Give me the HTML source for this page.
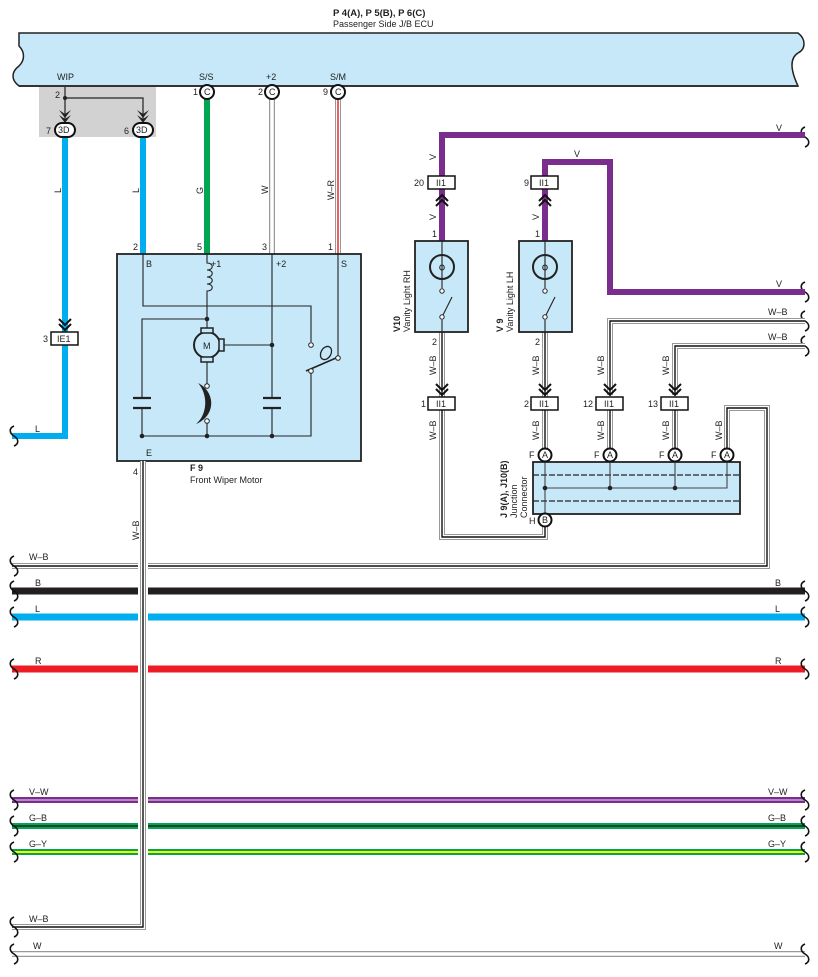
<!DOCTYPE html>
<html><head><meta charset="utf-8"><style>
html,body{margin:0;padding:0;background:#fff}
svg{display:block;font-family:"Liberation Sans",sans-serif}
text{font-size:9px;fill:#222}
.b{font-weight:bold}
</style></head><body>
<svg width="818" height="977" viewBox="0 0 818 977" xmlns="http://www.w3.org/2000/svg">
<defs>
<g id="brace"><path d="M0,-10 c-5,2 -5,7 0,10 c5,3 5,8 0,10" fill="none" stroke="#111" stroke-width="1.6"/></g>
<g id="dn"><path d="M-6,-9 L0,-3 L6,-9 M-6,-4 L0,2 L6,-4" fill="none" stroke="#111" stroke-width="2"/></g>
<g id="up"><path d="M-6,9 L0,3 L6,9 M-6,4 L0,-2 L6,4" fill="none" stroke="#111" stroke-width="2"/></g>
</defs>

<!-- title -->
<text x="333" y="16" class="b" style="font-size:9.5px">P 4(A), P 5(B), P 6(C)</text>
<text x="333" y="27">Passenger Side J/B ECU</text>

<!-- ECU box -->
<path d="M19,33 H798 c8,6 8,16 0,20 c-8,5 -8,16 0,33 H19 c-8,-6 -8,-14 0,-20 c6,-6 6,-14 0,-20 Z" fill="#c6e8f9" stroke="#222" stroke-width="1.5"/>
<path d="M19,86 H798" stroke="#333" stroke-width="2"/>
<text x="57" y="80">WIP</text>
<text x="199" y="80">S/S</text>
<text x="266" y="80">+2</text>
<text x="330" y="80">S/M</text>

<!-- gray box -->
<rect x="39" y="87" width="117" height="50" fill="#d2d2d2"/>
<path d="M65,87 V120 M65,98 H143 V120" fill="none" stroke="#222" stroke-width="1.2"/>
<circle cx="65" cy="98" r="2" fill="#222"/>
<text x="55" y="98">2</text>
<path d="M59,110 L65,118 L71,110 L65,114 Z M59,115 L65,123 L71,115 L65,119Z" fill="#222"/>
<path d="M137,110 L143,118 L149,110 L143,114 Z M137,115 L143,123 L149,115 L143,119Z" fill="#222"/>

<!-- blue wires -->
<path d="M65,137 V436 H12" fill="none" stroke="#00aeef" stroke-width="6"/>
<path d="M143,137 V254" fill="none" stroke="#00aeef" stroke-width="6"/>
<rect x="55" y="123" width="20" height="14" rx="7" fill="#fff" stroke="#111" stroke-width="2"/>
<text x="58" y="133">3D</text><text x="46" y="134">7</text>
<rect x="133" y="123" width="20" height="14" rx="7" fill="#fff" stroke="#111" stroke-width="2"/>
<text x="136" y="133">3D</text><text x="124" y="134">6</text>
<text transform="translate(61,193) rotate(-90)">L</text>
<text transform="translate(139,193) rotate(-90)">L</text>
<use href="#dn" x="65" y="328"/>
<rect x="51" y="332" width="27" height="13" fill="#fff" stroke="#111" stroke-width="1.5"/>
<text x="57" y="342">IE1</text><text x="43" y="342">3</text>
<text x="35" y="432">L</text>
<use href="#brace" x="14" y="436"/>

<!-- G, W, W-R -->
<path d="M207,99 V254" stroke="#00a651" stroke-width="6"/>
<path d="M272,99 V254" stroke="#999" stroke-width="6"/><path d="M272,99 V254" stroke="#fff" stroke-width="3.5"/>
<path d="M338,99 V254" stroke="#999" stroke-width="6"/><path d="M338,99 V254" stroke="#fff" stroke-width="4"/><path d="M338,99 V254" stroke="#e02020" stroke-width="1.4"/>
<g fill="#fff" stroke="#111" stroke-width="2">
<circle cx="207" cy="92" r="7"/><circle cx="272" cy="92" r="7"/><circle cx="338" cy="92" r="7"/></g>
<text x="204" y="95">C</text><text x="269" y="95">C</text><text x="335" y="95">C</text>
<text x="193" y="95">1</text><text x="258" y="95">2</text><text x="323" y="95">9</text>
<text transform="translate(203,194) rotate(-90)">G</text>
<text transform="translate(268,194) rotate(-90)">W</text>
<text transform="translate(334,200) rotate(-90)">W–R</text>
<text x="133" y="250">2</text><text x="197" y="250">5</text><text x="262" y="250">3</text><text x="328" y="250">1</text>

<!-- motor box -->
<rect x="117" y="254" width="244" height="207" fill="#c6e8f9" stroke="#222" stroke-width="1.8"/>
<text x="146" y="267">B</text><text x="211" y="267">+1</text><text x="276" y="267">+2</text><text x="341" y="267">S</text>
<g fill="none" stroke="#222" stroke-width="1.1">
<path d="M143,254 V306 H311 V342"/>
<path d="M207,254 V263 c7,0 7,7 0,7 c7,0 7,7 0,7 c7,0 7,7 0,7 c7,0 7,7 0,7 V331"/>
<path d="M207,319 H142 V398 M142,408 V436 H311 V373"/>
<path d="M133,398 H151 M133,408 H151" stroke-width="2.2"/>
<path d="M272,254 V398 M272,408 V436"/>
<path d="M263,398 H281 M263,408 H281" stroke-width="2.2"/>
<path d="M221,345 H272"/>
<path d="M207,359 V386 M207,422 V436"/>
<path d="M338,254 V356"/>
<path d="M336,358 L306,371" stroke-width="1.6"/>
</g>
<path d="M198,383 C216,392 216,416 196,424 C208,414 208,394 198,383 Z" fill="#222"/>
<circle cx="207" cy="345" r="13" fill="#c6e8f9" stroke="#222" stroke-width="2"/>
<rect x="201" y="328" width="12" height="5" fill="#c6e8f9" stroke="#222" stroke-width="1.5"/>
<rect x="201" y="357" width="12" height="5" fill="#c6e8f9" stroke="#222" stroke-width="1.5"/>
<rect x="219" y="339" width="5" height="12" fill="#c6e8f9" stroke="#222" stroke-width="1.5"/>
<text x="203" y="349">M</text>
<ellipse cx="326" cy="353" rx="5" ry="7" transform="rotate(30 326 353)" fill="#c6e8f9" stroke="#222" stroke-width="1.3"/>
<g fill="#fff" stroke="#222" stroke-width="1">
<circle cx="311" cy="345" r="2.3"/><circle cx="338" cy="358" r="2.3"/><circle cx="311" cy="371" r="2.3"/>
<circle cx="207" cy="386" r="2.3"/><circle cx="207" cy="421" r="2.3"/></g>
<g fill="#222"><circle cx="207" cy="319" r="2.3"/><circle cx="272" cy="345" r="2.3"/><circle cx="142" cy="436" r="2.3"/><circle cx="207" cy="436" r="2.3"/><circle cx="272" cy="436" r="2.3"/></g>
<text x="146" y="456">E</text>
<text x="190" y="471" class="b">F 9</text>
<text x="190" y="483">Front Wiper Motor</text>
<text x="133" y="475">4</text>

<!-- horizontal buses -->
<g fill="none">
<path d="M12,591 H805" stroke="#231f20" stroke-width="7"/>
<path d="M12,617 H805" stroke="#00aeef" stroke-width="7"/>
<path d="M12,669 H805" stroke="#ed1c24" stroke-width="7"/>
<path d="M12,800 H805" stroke="#7b2d8e" stroke-width="6"/><path d="M12,800 H805" stroke="#c9a5d4" stroke-width="1.5"/>
<path d="M12,826 H805" stroke="#00a651" stroke-width="6"/><path d="M12,826 H805" stroke="#222" stroke-width="1.5"/>
<path d="M12,852 H805" stroke="#00a651" stroke-width="6"/><path d="M12,852 H805" stroke="#fff200" stroke-width="2"/>
<path d="M12,954 H805" stroke="#999" stroke-width="6"/><path d="M12,954 H805" stroke="#fff" stroke-width="3.5"/>
<path d="M727,455 V408 H767 V566 H12" stroke="#999" stroke-width="6"/><path d="M727,455 V408 H767 V566 H12" stroke="#fff" stroke-width="4"/><path d="M727,455 V408 H767 V566 H12" stroke="#111" stroke-width="1.4"/>
<path d="M143,560 V935" stroke="#fff" stroke-width="10"/>
<path d="M143,461 V927 H12" stroke="#999" stroke-width="6"/><path d="M143,461 V927 H12" stroke="#fff" stroke-width="4"/><path d="M143,461 V927 H12" stroke="#111" stroke-width="1.4"/>
</g>
<text transform="translate(139,540) rotate(-90)">W–B</text>
<g>
<text x="29" y="560">W–B</text><text x="35" y="586">B</text><text x="35" y="612">L</text><text x="35" y="664">R</text>
<text x="29" y="795">V–W</text><text x="29" y="821">G–B</text><text x="29" y="847">G–Y</text><text x="29" y="922">W–B</text><text x="33" y="949">W</text>
<text x="775" y="586">B</text><text x="775" y="612">L</text><text x="775" y="664">R</text>
<text x="768" y="795">V–W</text><text x="768" y="821">G–B</text><text x="768" y="847">G–Y</text><text x="774" y="949">W</text>
</g>
<g>
<use href="#brace" x="14" y="566"/><use href="#brace" x="14" y="591"/><use href="#brace" x="14" y="617"/><use href="#brace" x="14" y="669"/>
<use href="#brace" x="14" y="800"/><use href="#brace" x="14" y="826"/><use href="#brace" x="14" y="852"/><use href="#brace" x="14" y="927"/><use href="#brace" x="14" y="954"/>
<use href="#brace" x="805" y="591"/><use href="#brace" x="805" y="617"/><use href="#brace" x="805" y="669"/>
<use href="#brace" x="805" y="800"/><use href="#brace" x="805" y="826"/><use href="#brace" x="805" y="852"/><use href="#brace" x="805" y="954"/>
<use href="#brace" x="805" y="137"/><use href="#brace" x="805" y="292"/><use href="#brace" x="805" y="321"/><use href="#brace" x="805" y="346"/>
</g>

<!-- right side V wires -->
<path d="M442,241 V135 H805" fill="none" stroke="#7b2d8e" stroke-width="6"/>
<path d="M545,241 V162 H610 V292 H805" fill="none" stroke="#7b2d8e" stroke-width="6"/>
<text x="776" y="131">V</text><text x="776" y="287">V</text><text x="574" y="157">V</text>
<text transform="translate(436,160) rotate(-90)">V</text>
<text transform="translate(436,220) rotate(-90)">V</text>
<text transform="translate(539,220) rotate(-90)">V</text>
<use href="#up" x="442" y="197"/><use href="#up" x="545" y="197"/>
<rect x="428" y="176" width="27" height="13" fill="#fff" stroke="#111" stroke-width="1.5"/><text x="436" y="186">II1</text><text x="414" y="186">20</text>
<rect x="531" y="176" width="27" height="13" fill="#fff" stroke="#111" stroke-width="1.5"/><text x="539" y="186">II1</text><text x="524" y="186">9</text>
<text x="432" y="237">1</text><text x="535" y="237">1</text>

<!-- W-B wires right -->
<g fill="none">
<path d="M805,321 H610 V395 M805,346 H675 V395 M442,332 V537 H545 V520 M545,332 V455 M610,403 V455 M675,403 V455" stroke="#999" stroke-width="6"/>
<path d="M805,321 H610 V395 M805,346 H675 V395 M442,332 V537 H545 V520 M545,332 V455 M610,403 V455 M675,403 V455" stroke="#fff" stroke-width="4"/>
<path d="M805,321 H610 V395 M805,346 H675 V395 M442,332 V537 H545 V520 M545,332 V455 M610,403 V455 M675,403 V455" stroke="#111" stroke-width="1.4"/>
</g>
<text x="768" y="315">W–B</text><text x="768" y="340">W–B</text>

<!-- vanity lights -->
<g>
<rect x="415" y="241" width="53" height="91" fill="#c6e8f9" stroke="#222" stroke-width="1.8"/>
<rect x="519" y="241" width="53" height="91" fill="#c6e8f9" stroke="#222" stroke-width="1.8"/>
<g fill="none" stroke="#222" stroke-width="1.1">
<path d="M442,241 V288 M442,320 V332 M442,317 L452,297"/>
<path d="M545,241 V288 M545,320 V332 M545,317 L555,297"/>
<path d="M442,270 c-3,0 -3,-5 0,-5 c3,0 3,5 0,5 M545,270 c-3,0 -3,-5 0,-5 c3,0 3,5 0,5"/>
</g>
<circle cx="442" cy="267" r="12" fill="none" stroke="#222" stroke-width="2"/>
<circle cx="545" cy="267" r="12" fill="none" stroke="#222" stroke-width="2"/>
<g fill="#fff" stroke="#222"><circle cx="442" cy="291" r="2.2"/><circle cx="442" cy="317" r="2.2"/><circle cx="545" cy="291" r="2.2"/><circle cx="545" cy="317" r="2.2"/></g>
<text transform="translate(410,332) rotate(-90)">Vanity Light RH</text>
<text transform="translate(513,332) rotate(-90)">Vanity Light LH</text>
<text transform="translate(400,332) rotate(-90)" class="b">V10</text>
<text transform="translate(503,332) rotate(-90)" class="b">V 9</text>
<text x="432" y="345">2</text><text x="535" y="345">2</text>
</g>
<text transform="translate(436,375) rotate(-90)">W–B</text>
<text transform="translate(539,375) rotate(-90)">W–B</text>
<text transform="translate(604,375) rotate(-90)">W–B</text>
<text transform="translate(669,375) rotate(-90)">W–B</text>
<text transform="translate(436,440) rotate(-90)">W–B</text>
<text transform="translate(539,440) rotate(-90)">W–B</text>
<text transform="translate(604,440) rotate(-90)">W–B</text>
<text transform="translate(669,440) rotate(-90)">W–B</text>
<text transform="translate(722,440) rotate(-90)">W–B</text>
<use href="#dn" x="442" y="393"/><use href="#dn" x="545" y="393"/><use href="#dn" x="610" y="393"/><use href="#dn" x="675" y="393"/>
<g fill="#fff" stroke="#111" stroke-width="1.5">
<rect x="428" y="397" width="27" height="13"/><rect x="531" y="397" width="27" height="13"/><rect x="596" y="397" width="27" height="13"/><rect x="661" y="397" width="27" height="13"/></g>
<text x="436" y="407">II1</text><text x="539" y="407">II1</text><text x="604" y="407">II1</text><text x="669" y="407">II1</text>
<text x="421" y="407">1</text><text x="524" y="407">2</text><text x="583" y="407">12</text><text x="648" y="407">13</text>

<!-- junction connector -->
<rect x="533" y="462" width="207" height="52" fill="#c6e8f9" stroke="#222" stroke-width="1.8"/>
<path d="M533,475 H740 M533,501 H740" stroke="#222" stroke-width="1.3" stroke-dasharray="6,2"/>
<path d="M545,462 V514 M545,488 H727 V462 M610,462 V488 M675,462 V488" fill="none" stroke="#444" stroke-width="1.1"/>
<g fill="#222"><circle cx="545" cy="488" r="2.3"/><circle cx="610" cy="488" r="2.3"/><circle cx="675" cy="488" r="2.3"/></g>
<g fill="#fff" stroke="#111" stroke-width="2">
<circle cx="545" cy="455" r="6.5"/><circle cx="610" cy="455" r="6.5"/><circle cx="675" cy="455" r="6.5"/><circle cx="727" cy="455" r="6.5"/><circle cx="545" cy="520" r="6.5"/></g>
<text x="542" y="458">A</text><text x="607" y="458">A</text><text x="672" y="458">A</text><text x="724" y="458">A</text><text x="542" y="523">B</text>
<text x="529" y="458">F</text><text x="594" y="458">F</text><text x="659" y="458">F</text><text x="711" y="458">F</text><text x="529" y="524">H</text>
<text transform="translate(507,518) rotate(-90)" class="b">J 9(A), J10(B)</text>
<text transform="translate(517,518) rotate(-90)">Junction</text>
<text transform="translate(527,518) rotate(-90)">Connector</text>
</svg>
</body></html>
